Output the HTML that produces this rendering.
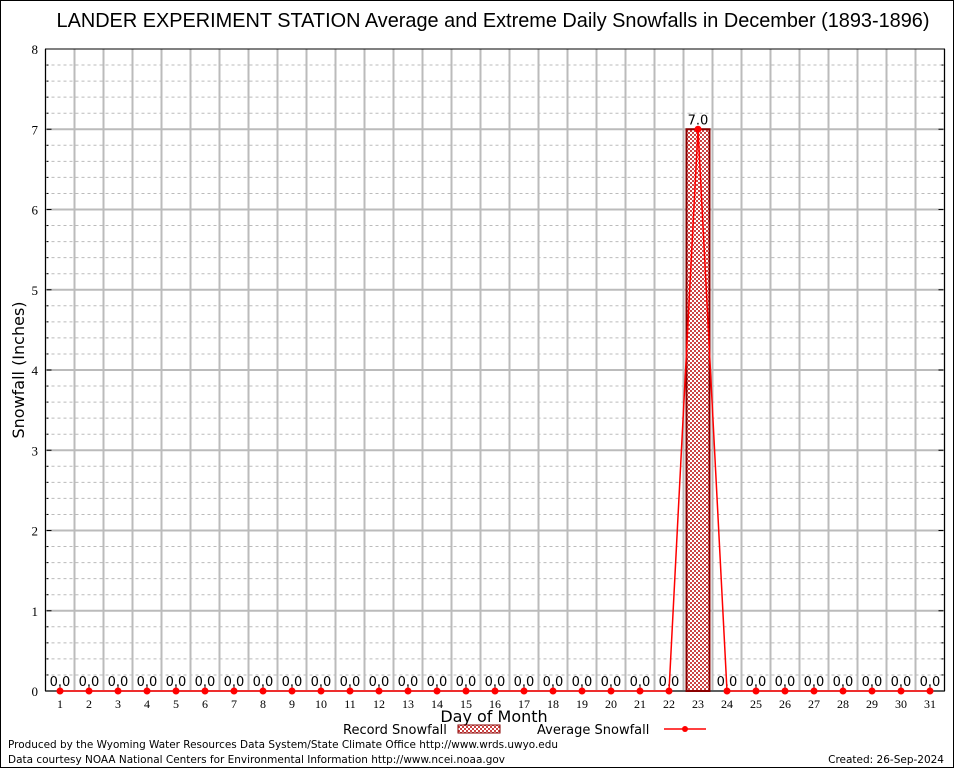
<!DOCTYPE html>
<html><head><meta charset="utf-8"><style>
body{margin:0;background:#fff}
svg{display:block;font-family:"DejaVu Sans","Liberation Sans",sans-serif}
</style></head><body>
<svg id="c" width="954" height="768" viewBox="0 0 954 768">
<defs><pattern id="hatch" width="4" height="4" patternUnits="userSpaceOnUse"><rect width="4" height="4" fill="#fff"/><rect width="2" height="2" fill="#c44"/><rect x="2" y="2" width="2" height="2" fill="#c44"/></pattern></defs>
<rect x="0.5" y="0.5" width="953" height="767" fill="#fff" stroke="#000"/>
<text x="493" y="27" font-size="20" text-anchor="middle" font-family="Liberation Sans, sans-serif" textLength="873" lengthAdjust="spacingAndGlyphs">LANDER EXPERIMENT STATION Average and Extreme Daily Snowfalls in December (1893-1896)</text>
<g id="grid"></g><g id="marks"></g>
<text transform="translate(24,370) rotate(-90)" font-size="16" text-anchor="middle">Snowfall (Inches)</text>
<text x="494" y="722" font-size="16" text-anchor="middle">Day of Month</text>
<g><text x="343" y="734" font-size="13">Record Snowfall</text><rect x="458" y="725" width="42" height="8" fill="url(#hatch)" stroke="#8b0000"/></g>
<g><text x="537" y="734" font-size="13">Average Snowfall</text><line x1="664" y1="729" x2="706" y2="729" stroke="red" stroke-width="1.5"/><circle cx="685" cy="729" r="3" fill="red"/></g>
<text x="8" y="748" font-size="10.5" textLength="550" lengthAdjust="spacingAndGlyphs">Produced by the Wyoming Water Resources Data System/State Climate Office http://www.wrds.uwyo.edu</text>
<text x="8" y="763" font-size="10.5" textLength="497" lengthAdjust="spacingAndGlyphs">Data courtesy NOAA National Centers for Environmental Information http://www.ncei.noaa.gov</text>
<text x="944" y="763" font-size="10.5" text-anchor="end">Created: 26-Sep-2024</text>
</svg>
<script>
const days=[1,2,3,4,5,6,7,8,9,10,11,12,13,14,15,16,17,18,19,20,21,22,23,24,25,26,27,28,29,30,31];
const recordSnow=[0,0,0,0,0,0,0,0,0,0,0,0,0,0,0,0,0,0,0,0,0,0,7.0,0,0,0,0,0,0,0,0];
const avgSnow=[0,0,0,0,0,0,0,0,0,0,0,0,0,0,0,0,0,0,0,0,0,0,7.0,0,0,0,0,0,0,0,0];
const yTicks=[0,1,2,3,4,5,6,7,8];
const L=45.5,R=944.5,T=49,B=691,YMAX=8;
const xs=d=>L+(d-0.5)*(R-L)/days.length;
const ys=v=>B-v*(B-T)/YMAX;
const NS='http://www.w3.org/2000/svg';
function mk(p,t,a){const e=document.createElementNS(NS,t);for(const k in a)e.setAttribute(k,a[k]);p.appendChild(e);return e;}
const g=document.getElementById('grid'),m=document.getElementById('marks');
for(let v=0;v<=YMAX;v+=0.2){const y=ys(v);const maj=Math.abs(v-Math.round(v))<1e-6;
 const l=mk(g,'line',{x1:L,x2:R,y1:y,y2:y,stroke:'#bbb','stroke-width':maj?2:1,'stroke-dasharray':maj?'':'3,3'});
 
 
 mk(g,'line',{x1:L,x2:L+(maj?6:3),y1:y,y2:y,stroke:'#000'});
 mk(g,'line',{x1:R,x2:R-(maj?6:3),y1:y,y2:y,stroke:'#000'});}
for(let i=0;i<=days.length;i++){const x=L+i*(R-L)/days.length;
 const l=mk(g,'line',{x1:x,x2:x,y1:T,y2:B,stroke:'#bbb','stroke-width':2});
 
 }
mk(g,'rect',{x:L,y:T,width:R-L,height:B-T,fill:'none',stroke:'#000'});
yTicks.forEach(v=>{const t=mk(g,'text',{x:38,y:ys(v)+5,'font-size':13,'text-anchor':'end','font-family':'Liberation Serif, serif'});t.textContent=v;
 
 });
days.forEach((d,i)=>{const x=xs(d);
 mk(g,'line',{x1:x,x2:x,y1:B,y2:B-5,stroke:'#000'});
 const t=mk(g,'text',{x:x,y:708,'font-size':12,'text-anchor':'middle','font-family':'Liberation Serif, serif'});t.textContent=d;
 
 
 const v=recordSnow[i];const w=(R-L)/days.length;
 if(v>0){const b=mk(m,'rect',{x:x-w/2+3,y:ys(v),width:w-6,height:B-ys(v),fill:'url(#hatch)',stroke:'#8b0000','stroke-width':2});
  
  }
 const lt=mk(m,'text',{x:x,y:ys(v)-5,'font-size':13,'text-anchor':'middle'});lt.textContent=v.toFixed(1);
 
 });
const pts=days.map((d,i)=>xs(d)+','+ys(avgSnow[i])).join(' ');
const pl=mk(m,'polyline',{points:pts,fill:'none',stroke:'red','stroke-width':1.5});


days.forEach((d,i)=>{const c=mk(m,'circle',{cx:xs(d),cy:ys(avgSnow[i]),r:3.5,fill:'red'});
 
 });
</script>
</body></html>
